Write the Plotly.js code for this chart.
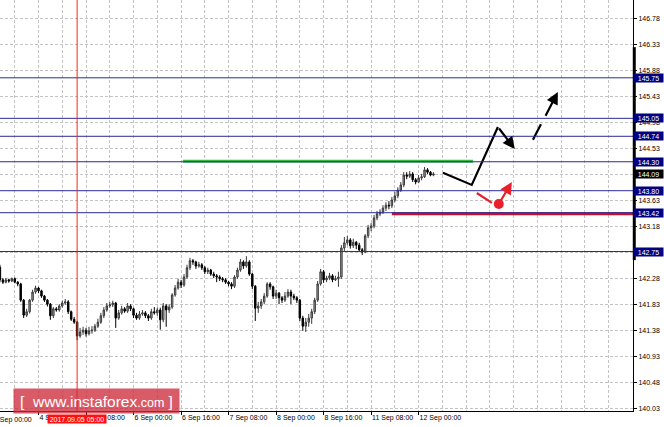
<!DOCTYPE html>
<html><head><meta charset="utf-8">
<script src="https://cdn.plot.ly/plotly-3.0.1.min.js"></script>
<style>html,body{margin:0;padding:0;background:#fff}#chart{width:664px;height:427px}</style>
</head><body><div id="chart"></div>
<script>
// hourly bars; hour index counted from 4 Sep 00:00 (trading hours, weekend skipped)
const startHour = 3;
const open = [142.48,142.26,142.22,142.26,142.24,142.28,142.22,142.19,141.91,141.65,
 141.71,141.91,142.05,142.12,142.07,141.98,141.91,141.84,141.64,141.76,
 141.74,141.81,141.86,141.88,141.71,141.58,141.53,141.29,141.36,141.39,
 141.33,141.38,141.39,141.46,141.53,141.64,141.74,141.81,141.83,141.86,
 141.60,141.69,141.76,141.72,141.81,141.76,141.65,141.60,141.67,141.69,
 141.64,141.60,141.71,141.69,141.74,141.57,141.81,141.74,141.79,142.00,
 142.12,142.22,142.17,142.31,142.47,142.59,142.57,142.50,142.52,142.47,
 142.40,142.43,142.36,142.33,142.31,142.28,142.26,142.22,142.19,142.15,
 142.31,142.43,142.57,142.50,142.57,142.36,142.15,141.77,141.81,141.88,
 141.98,142.19,142.14,141.98,142.03,141.95,141.91,141.98,142.05,141.98,
 141.95,141.91,141.60,141.46,141.53,141.60,141.71,141.91,142.19,142.40,
 142.26,142.29,142.33,142.26,142.28,142.31,142.81,142.90,142.95,142.85,
 142.91,142.86,142.78,142.74,143.02,143.16,143.19,143.33,143.40,143.43,
 143.50,143.55,143.54,143.64,143.71,143.81,143.90,144.07,144.05,144.09,
 143.99,143.95,144.02,144.04,144.16,144.12,144.07];
const high = [142.52,142.29,142.29,142.28,142.30,142.30,142.24,142.21,141.93,141.76,
 141.93,142.09,142.16,142.14,142.09,142.00,141.93,141.86,141.79,141.79,
 141.84,141.90,141.93,141.91,141.73,141.62,141.55,141.43,141.45,141.43,
 141.45,141.46,141.50,141.59,141.69,141.79,141.86,141.88,141.90,141.88,
 141.74,141.81,141.79,141.86,141.84,141.78,141.69,141.72,141.74,141.72,
 141.67,141.76,141.79,141.78,141.78,141.86,141.84,141.84,142.03,142.17,
 142.28,142.26,142.36,142.52,142.64,142.62,142.59,142.57,142.55,142.50,
 142.47,142.45,142.40,142.36,142.34,142.31,142.29,142.24,142.22,142.34,
 142.47,142.62,142.60,142.67,142.60,142.38,142.17,141.88,141.93,142.03,
 142.22,142.22,142.16,142.09,142.05,141.98,142.05,142.10,142.09,142.02,
 141.98,141.93,141.64,141.60,141.67,141.76,141.95,142.24,142.45,142.43,
 142.33,142.38,142.36,142.33,142.40,142.86,143.00,143.02,142.98,142.97,
 142.93,142.90,142.81,143.05,143.21,143.24,143.38,143.45,143.48,143.55,
 143.60,143.62,143.69,143.78,143.86,143.95,144.12,144.12,144.14,144.12,
 144.02,144.07,144.09,144.21,144.19,144.14,144.12];
const low = [142.22,142.19,142.20,142.21,142.22,142.20,142.15,141.88,141.60,141.62,
 141.68,141.88,142.02,142.03,141.95,141.88,141.80,141.57,141.60,141.71,
 141.71,141.78,141.83,141.67,141.55,141.50,141.22,141.26,141.31,141.28,
 141.30,141.33,141.36,141.43,141.50,141.60,141.71,141.78,141.79,141.43,
 141.57,141.66,141.69,141.69,141.72,141.60,141.57,141.57,141.64,141.60,
 141.55,141.57,141.66,141.64,141.40,141.53,141.45,141.69,141.76,141.97,
 142.09,142.12,142.14,142.28,142.43,142.52,142.45,142.47,142.43,142.36,
 142.36,142.33,142.29,142.22,142.24,142.22,142.19,142.15,142.10,142.12,
 142.28,142.40,142.45,142.47,142.33,142.10,141.55,141.69,141.76,141.84,
 141.95,142.09,141.93,141.93,141.84,141.86,141.88,141.95,141.84,141.91,
 141.86,141.55,141.38,141.36,141.45,141.50,141.67,141.88,142.16,142.21,
 142.22,142.26,142.22,142.24,142.14,142.28,142.76,142.86,142.80,142.81,
 142.79,142.74,142.69,142.72,142.98,143.10,143.15,143.29,143.36,143.40,
 143.45,143.48,143.50,143.60,143.67,143.78,143.86,144.00,144.02,143.95,
 143.91,143.93,143.98,144.02,144.09,144.05,144.05];
const close = [142.26,142.22,142.26,142.24,142.28,142.22,142.19,141.91,141.65,141.71,
 141.91,142.05,142.12,142.07,141.98,141.91,141.84,141.64,141.76,141.74,
 141.81,141.86,141.88,141.71,141.58,141.53,141.29,141.36,141.39,141.33,
 141.38,141.39,141.46,141.53,141.64,141.74,141.81,141.83,141.86,141.60,
 141.69,141.76,141.72,141.81,141.76,141.65,141.60,141.67,141.69,141.64,
 141.60,141.71,141.69,141.74,141.57,141.81,141.74,141.79,142.00,142.12,
 142.22,142.17,142.31,142.47,142.59,142.57,142.50,142.52,142.47,142.40,
 142.43,142.36,142.33,142.31,142.28,142.26,142.22,142.19,142.15,142.31,
 142.43,142.57,142.50,142.57,142.36,142.15,141.77,141.81,141.88,141.98,
 142.19,142.14,141.98,142.03,141.95,141.91,141.98,142.05,141.98,141.95,
 141.91,141.60,141.46,141.53,141.60,141.71,141.91,142.19,142.40,142.26,
 142.29,142.33,142.26,142.28,142.31,142.81,142.90,142.95,142.85,142.91,
 142.86,142.78,142.74,143.02,143.16,143.19,143.33,143.40,143.43,143.50,
 143.55,143.54,143.64,143.71,143.81,143.90,144.07,144.05,144.09,143.99,
 143.95,144.02,144.04,144.16,144.12,144.07,144.09];

const tickHours = [0,16,32,48,64,80,96,112,128,144];
const tickText = ["4 Sep 00:00","4 Sep 16:00","5 Sep 08:00","6 Sep 00:00","6 Sep 16:00","7 Sep 08:00","8 Sep 00:00","8 Sep 16:00","11 Sep 08:00","12 Sep 00:00"];
const yTickVals = [146.78,146.33,145.88,145.43,144.98,144.53,144.08,143.63,143.18,142.73,142.28,141.83,141.38,140.93,140.48,140.03];
const levels = [145.75,145.05,144.74,144.30,143.80,143.42,142.75];
const currentPrice = 144.09;
const markerHour = 29;
const markerLabel = "2017.09.05 05:00";

// drawn objects (hour index, price)
const greenX = [64.6,162.3], greenY = [144.31,144.31];
const redX = [135,216.5], redY = [143.40,143.40];
const blackPathX = [152.2,161.9,170.7], blackPathY = [144.11,143.90,144.90];
const blackArrow = {from:[170.7,144.90], to:[176.4,144.52]};
const dashSegX = [182.5,185.2], dashSegY = [144.68,144.95];
const dashArrow = {from:[186.5,145.07], to:[190.9,145.505]};
const redSegX = [163.6,168.7], redSegY = [143.76,143.59];
const redDot = [171.0,143.57];
const redArrow = {from:[171.0,143.57], to:[175.4,143.95]};
const rangeBar = [142.60,146.28];

const xRange = [3.03,216.2];
const yRange = [139.995,147.094];

const hours = close.map((_, i) => startHour + i);
const gridCol = '#c4c4c4';
const F = 'Liberation Sans, Arial, sans-serif';

const traces = [
  {type:'candlestick', x:hours, open, high, low, close,
   increasing:{line:{color:'#3a3a3a',width:1}, fillcolor:'#a8a8a8'},
   decreasing:{line:{color:'#000',width:1}, fillcolor:'#000'},
   whiskerwidth:0, hoverinfo:'skip', showlegend:false},
  {type:'scatter', mode:'lines', x:greenX, y:greenY, line:{color:'#3cb84a', width:3}, showlegend:false, hoverinfo:'skip'},
  {type:'scatter', mode:'lines', x:redX, y:redY, line:{color:'#c8102e', width:3}, showlegend:false, hoverinfo:'skip'},
  {type:'scatter', mode:'lines', x:blackPathX, y:blackPathY, line:{color:'#000', width:2.2}, showlegend:false, hoverinfo:'skip'},
  {type:'scatter', mode:'lines', x:dashSegX, y:dashSegY, line:{color:'#000', width:2.2}, showlegend:false, hoverinfo:'skip'},
  {type:'scatter', mode:'lines', x:redSegX, y:redSegY, line:{color:'#e8202a', width:2.2}, showlegend:false, hoverinfo:'skip'},
  {type:'scatter', mode:'markers', x:[redDot[0]], y:[redDot[1]], marker:{color:'#e8202a', size:10}, showlegend:false, hoverinfo:'skip'}
];

const shapes = levels.map(v => ({type:'line', xref:'paper', x0:0, x1:1, yref:'y', y0:v, y1:v, line:{color:'#2a2a9a', width:1}}));
shapes.push({type:'line', xref:'x', x0:markerHour, x1:markerHour, yref:'paper', y0:0, y1:1, line:{color:'#ff2020', width:1}});
shapes.push({type:'line', xref:'paper', x0:1.002, x1:1.002, yref:'y', y0:rangeBar[0], y1:rangeBar[1], line:{color:'#000', width:3}});

const arrowAnn = (a, col) => ({xref:'x', yref:'y', axref:'x', ayref:'y', x:a.to[0], y:a.to[1], ax:a.from[0], ay:a.from[1],
  showarrow:true, arrowhead:2, arrowsize:1.1, arrowwidth:2.2, arrowcolor:col, text:''});

const annotations = [];
levels.forEach(v => annotations.push({xref:'paper', x:1, xanchor:'left', xshift:0, yref:'y', y:v, yanchor:'middle',
  text:v.toFixed(2), showarrow:false, bgcolor:'#000080', font:{color:'#fff', size:7, family:F}, width:29, height:8, borderpad:0}));
annotations.push({xref:'paper', x:1, xanchor:'left', yref:'y', y:currentPrice, yanchor:'middle',
  text:currentPrice.toFixed(2), showarrow:false, bgcolor:'#000', font:{color:'#fff', size:7, family:F}, width:29, height:8, borderpad:0});
annotations.push({xref:'x', x:markerHour, xanchor:'center', yref:'paper', y:-0.008, yanchor:'top',
  text:markerLabel, showarrow:false, bgcolor:'#ff1010', font:{color:'#fff', size:7, family:F}, width:58, height:8, borderpad:0});
annotations.push({xref:'paper', x:(tickHours[0]-xRange[0])/(xRange[1]-xRange[0]), xanchor:'left', xshift:1, yref:'paper', y:-0.008, yanchor:'top',
  text:tickText[0], showarrow:false, font:{color:'#000', size:7, family:F}});
annotations.push({xref:'paper', x:0.021, xanchor:'left', yref:'paper', y:0.056, yanchor:'top',
  text:"[  www.instaforex<span style='font-size:12.5px'>.com</span> ]", showarrow:false,
  bgcolor:'rgba(205,45,60,0.78)', font:{color:'#fff', size:15.5, family:F}, width:163, height:22, borderpad:1});
annotations.push(arrowAnn(blackArrow,'#000'));
annotations.push(arrowAnn(dashArrow,'#000'));
annotations.push(arrowAnn(redArrow,'#e8202a'));

const layout = {
  width:664, height:427, margin:{l:0, r:31, t:0, b:16},
  paper_bgcolor:'#fff', plot_bgcolor:'#fff',
  font:{family:F, size:7, color:'#000'},
  showlegend:false,
  xaxis:{type:'linear', range:xRange, tickmode:'array', tickvals:tickHours.slice(1), ticktext:tickText.slice(1),
    tickangle:0, ticks:'outside', ticklen:3, tickcolor:'#000', ticklabelposition:'outside right',
    showline:true, linecolor:'#000', linewidth:1, zeroline:false,
    showgrid:true, gridcolor:gridCol, griddash:'3px,2px', gridwidth:1,
    minor:{tick0:0, dtick:8, showgrid:true, gridcolor:gridCol, griddash:'3px,2px', ticks:''},
    rangeslider:{visible:false}, fixedrange:true, tickfont:{size:7, family:F}},
  yaxis:{side:'right', range:yRange, tickmode:'array', tickvals:yTickVals, ticktext:yTickVals.map(v=>v.toFixed(2)),
    ticks:'outside', ticklen:3, tickcolor:'#000', showline:true, linecolor:'#000', linewidth:1, zeroline:false,
    showgrid:true, gridcolor:gridCol, griddash:'3px,2px', gridwidth:1, fixedrange:true, tickfont:{size:7, family:F}},
  shapes, annotations
};
Plotly.newPlot('chart', traces, layout, {staticPlot:true, displayModeBar:false});
</script></body></html>
